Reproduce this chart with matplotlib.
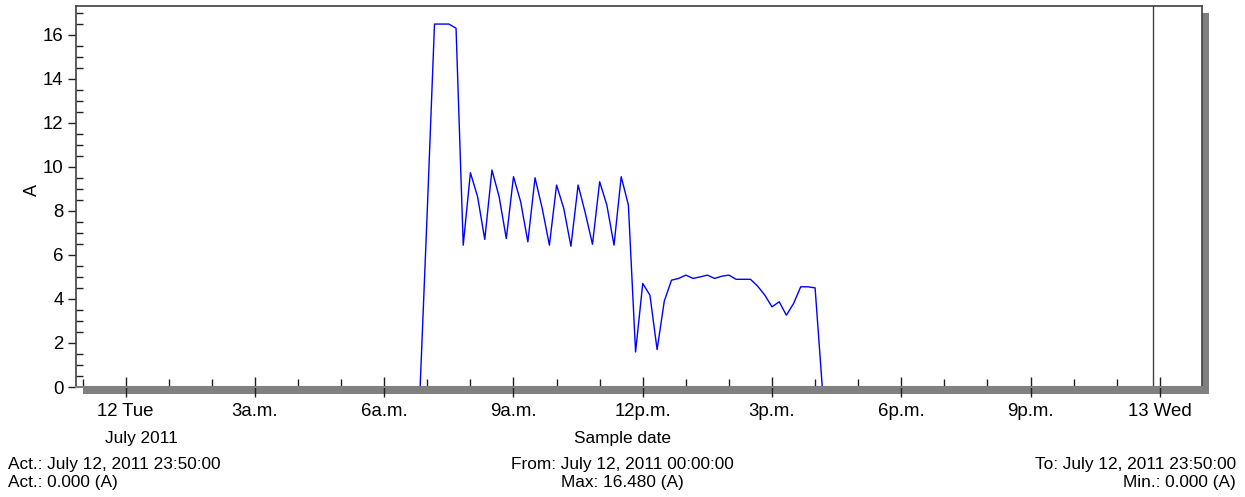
import matplotlib.pyplot as plt
from matplotlib.patches import Rectangle
from matplotlib.ticker import MultipleLocator

plt.rcParams['font.family'] = ['Liberation Sans', 'DejaVu Sans']

# current readings, one sample every 10 minutes on July 12, 2011
idle_morning = [0.0] * 41          # 00:00 .. 06:40
load = [0.0, 8.06, 16.48, 16.48, 16.48, 16.29, 6.44,          # 06:50 .. 07:50
        9.73, 8.64, 6.70, 9.85, 8.64, 6.74,                    # 08:00 .. 08:50
        9.55, 8.41, 6.59, 9.50, 8.11, 6.44,                    # 09:00 .. 09:50
        9.17, 8.11, 6.39, 9.17, 7.90, 6.48,                    # 10:00 .. 10:50
        9.32, 8.26, 6.44, 9.55, 8.26, 1.59,                    # 11:00 .. 11:50
        4.70, 4.17, 1.70, 3.90, 4.85, 4.93,                    # 12:00 .. 12:50
        5.08, 4.93, 5.00, 5.08, 4.93, 5.03,                    # 13:00 .. 13:50
        5.08, 4.89, 4.89, 4.89, 4.58, 4.17,                    # 14:00 .. 14:50
        3.64, 3.87, 3.26, 3.79, 4.55, 4.55,                    # 15:00 .. 15:50
        4.50, 0.0]                                             # 16:00 .. 16:10
idle_evening = [0.0] * 46          # 16:20 .. 23:50
amps = idle_morning + load + idle_evening
hours = [i / 6 for i in range(len(amps))]

cursor_hour = 23 + 50 / 60
tick_hours = [0, 3, 6, 9, 12, 15, 18, 21, 24]
tick_labels = ["12 Tue", "3a.m.", "6a.m.", "9a.m.", "12p.m.", "3p.m.", "6p.m.", "9p.m.", "13 Wed"]

W, H = 1245, 497
fig = plt.figure(figsize=(W / 100, H / 100), dpi=100)

x0, y0, x1, y1 = 76, 6, 1202, 387
ax = fig.add_axes([x0 / W, 1 - y1 / H, (x1 - x0) / W, (y1 - y0) / H])
ax.set_zorder(1)

# drop shadow behind the plot box
fig.patches.append(Rectangle(((x0 + 7) / W, 1 - (y1 + 7) / H), (x1 - x0) / W, (y1 - y0) / H,
                             transform=fig.transFigure, facecolor="#808080",
                             edgecolor="none", zorder=0))

ax.plot(hours, amps, color="#0000ff", lw=1.0)
ax.axvline(cursor_hour, color="#404040", lw=1.0)

ax.set_xlim(-1.154, 24.98)
ax.set_ylim(0, 17.3)

for s in ["top", "left", "right"]:
    ax.spines[s].set_color("#404040")
    ax.spines[s].set_linewidth(1.2)
ax.spines["bottom"].set_color("#808080")
ax.spines["bottom"].set_linewidth(1.5)

ax.set_xticks(tick_hours)
ax.set_xticklabels(tick_labels)
ax.xaxis.set_minor_locator(MultipleLocator(1))
ax.yaxis.set_major_locator(MultipleLocator(2))
ax.yaxis.set_minor_locator(MultipleLocator(0.5))

ax.tick_params(axis="x", which="major", direction="inout", length=15, width=1,
               color="#202020", labelsize=13.4, pad=4)
ax.tick_params(axis="x", which="minor", direction="in", length=5.5, width=1, color="#202020")
ax.tick_params(axis="y", which="major", direction="out", length=5.5, width=1,
               color="#202020", labelsize=13.4, pad=3.5)
ax.tick_params(axis="y", which="minor", direction="in", length=5.3, width=1, color="#202020")

fs = 12.4
fig.text(32 / W, 1 - 190 / H, "A", rotation=90, fontsize=13, ha="center", va="center")
fig.text(141 / W, 1 - 438 / H, "July 2011", fontsize=fs, ha="center", va="center")
fig.text(622 / W, 1 - 438 / H, "Sample date", fontsize=fs, ha="center", va="center")

fig.text(8 / W, 1 - 464 / H, "Act.: July 12, 2011 23:50:00", fontsize=fs, ha="left", va="center")
fig.text(8 / W, 1 - 483 / H, "Act.: 0.000 (A)", fontsize=fs, ha="left", va="center")
fig.text(622 / W, 1 - 464 / H, "From: July 12, 2011 00:00:00", fontsize=fs, ha="center", va="center")
fig.text(622 / W, 1 - 483 / H, "Max: 16.480 (A)", fontsize=fs, ha="center", va="center")
fig.text(1236 / W, 1 - 464 / H, "To: July 12, 2011 23:50:00", fontsize=fs, ha="right", va="center")
fig.text(1236 / W, 1 - 483 / H, "Min.: 0.000 (A)", fontsize=fs, ha="right", va="center")

fig.savefig("out.png", dpi=100)
